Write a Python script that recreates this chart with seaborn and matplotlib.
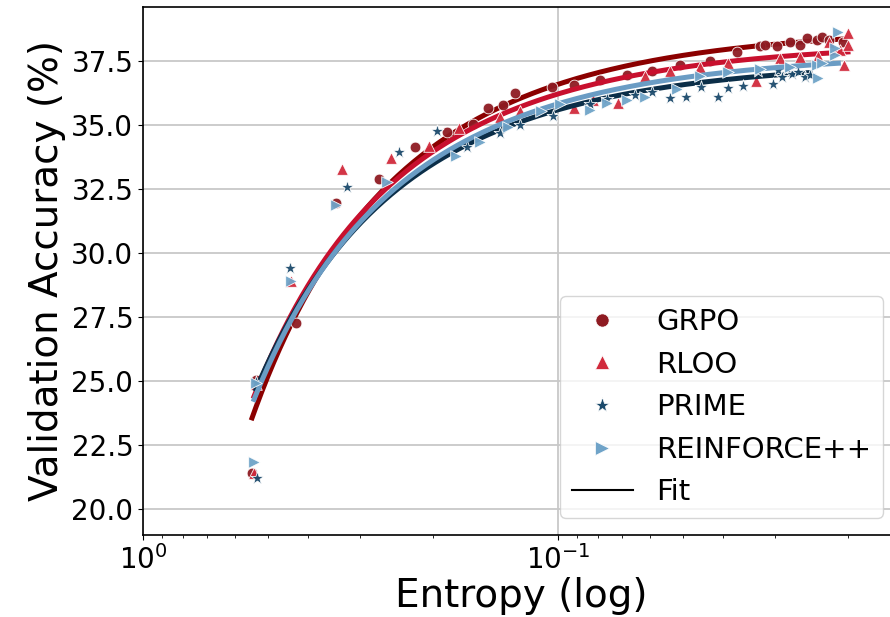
import numpy as np
import pandas as pd
import matplotlib
matplotlib.use("Agg")
import matplotlib.pyplot as plt
import seaborn as sns
from matplotlib.lines import Line2D

# ---------------- data ----------------
methods = ["GRPO", "RLOO", "PRIME", "REINFORCE++"]

grpo_entropy = [0.546, 0.534, 0.428, 0.343, 0.270, 0.2212, 0.1851, 0.1603, 0.1475,
                0.1357, 0.1269, 0.1034, 0.0915, 0.0792, 0.0682, 0.0594, 0.0508, 0.0430,
                0.0370, 0.0326, 0.0317, 0.0297, 0.0276, 0.0261, 0.0251, 0.0238, 0.0231,
                0.0222, 0.0206]
grpo_acc = [21.42, 25.04, 27.28, 31.94, 32.89, 34.15, 34.74, 35.04, 35.65,
            35.78, 36.26, 36.47, 36.55, 36.75, 36.95, 37.12, 37.35, 37.50,
            37.86, 38.06, 38.13, 38.06, 38.25, 38.13, 38.39, 38.32, 38.43,
            38.32, 38.25]

rloo_entropy = [0.540, 0.534, 0.440, 0.332, 0.253, 0.2046, 0.1732, 0.1379, 0.1234,
                0.0915, 0.0823, 0.0717, 0.0617, 0.0537, 0.0455, 0.0390, 0.0333,
                0.0292, 0.0261, 0.0236, 0.0222, 0.0209, 0.0205, 0.0200, 0.0200]
rloo_acc = [21.40, 24.90, 28.92, 33.27, 33.70, 34.17, 34.88, 35.30, 35.55,
            35.65, 35.98, 35.85, 36.90, 37.10, 37.25, 37.40, 36.71,
            37.60, 37.65, 37.70, 38.24, 37.93, 37.34, 38.58, 38.13]

prime_entropy = [0.531, 0.534, 0.442, 0.322, 0.2416, 0.1957, 0.1657, 0.1379, 0.1234,
                 0.1028, 0.0837, 0.0762, 0.0652, 0.0594, 0.0537, 0.0491, 0.0452,
                 0.0412, 0.0390, 0.0358, 0.0330, 0.0303, 0.0295, 0.0289, 0.0280,
                 0.0273, 0.0264, 0.0254, 0.0247]
prime_acc = [21.24, 24.95, 29.40, 32.59, 33.96, 34.78, 34.12, 34.70, 35.00,
             35.34, 35.80, 36.00, 36.17, 36.30, 36.04, 36.08, 36.47,
             36.10, 36.43, 36.50, 37.10, 36.60, 37.15, 36.88, 37.20,
             37.00, 37.08, 36.88, 36.95]

rpp_entropy = [0.540, 0.534, 0.440, 0.343, 0.258, 0.1761, 0.1542, 0.1320, 0.1100,
               0.0989, 0.0837, 0.0762, 0.0682, 0.0617, 0.0517, 0.0455, 0.0390,
               0.0326, 0.0276, 0.0236, 0.0238, 0.0231, 0.0215, 0.0211, 0.0215]
rpp_acc = [21.85, 24.92, 28.92, 31.88, 32.79, 33.78, 34.35, 34.93, 35.55,
           35.80, 35.60, 35.85, 35.98, 36.10, 36.39, 36.90, 37.05,
           37.17, 37.27, 36.82, 37.34, 37.40, 37.73, 38.64, 38.00]

y_ticks = [20.0, 22.5, 25.0, 27.5, 30.0, 32.5, 35.0, 37.5]

series = {
    "GRPO": (grpo_entropy, grpo_acc),
    "RLOO": (rloo_entropy, rloo_acc),
    "PRIME": (prime_entropy, prime_acc),
    "REINFORCE++": (rpp_entropy, rpp_acc),
}

# ---------------- styles ----------------
point_colors = {"GRPO": "#8e1b22", "RLOO": "#d12a3c", "PRIME": "#1b4a6b", "REINFORCE++": "#6fa3c8"}
fit_colors = {"GRPO": "#8b0000", "RLOO": "#c8102e", "PRIME": "#0b2e48", "REINFORCE++": "#6a9cc4"}
markers = {"GRPO": "o", "RLOO": "^", "PRIME": "*", "REINFORCE++": ">"}
sizes = {"GRPO": 60, "RLOO": 70, "PRIME": 95, "REINFORCE++": 70}

fig = plt.figure(figsize=(8.9, 6.17), dpi=100)
ax = fig.add_axes([143 / 890, 82 / 617, 756 / 890, 528 / 617])

for i, m in enumerate(methods):
    H, acc = series[m]
    H = np.asarray(H)
    acc = np.asarray(acc)
    # fit R = -a * exp(H) + b
    coef = np.polyfit(np.exp(H), acc, 1)
    hgrid = np.geomspace(H.min(), H.max(), 300)
    yfit = np.polyval(coef, np.exp(hgrid))
    sns.lineplot(x=hgrid, y=yfit, color=fit_colors[m], lw=3.6, ax=ax,
                 sort=False, estimator=None, legend=False, zorder=2 + 2 * i)
    df = pd.DataFrame({"entropy": H, "acc": acc})
    sns.scatterplot(data=df, x="entropy", y="acc", marker=markers[m],
                    color=point_colors[m], s=sizes[m], edgecolor="white",
                    linewidth=0.6, alpha=0.95, ax=ax, legend=False, zorder=3 + 2 * i)

ax.set_xscale("log")
ax.set_xlim(1.0, 0.01507)
ax.set_ylim(19.0, 39.6)
ax.set_yticks(y_ticks)
ax.set_yticklabels([f"{t:.1f}" for t in y_ticks])
ax.grid(True, which="major", color="#c8c8c8", lw=1.3)
ax.set_axisbelow(True)
ax.tick_params(labelsize=20)
ax.set_xlabel("Entropy (log)", fontsize=28, labelpad=2)
ax.set_ylabel("Validation Accuracy (%)", fontsize=28)
for sp in ax.spines.values():
    sp.set_color("black")
    sp.set_linewidth(1.2)

handles = [Line2D([0], [0], marker=markers[m], color="none", markerfacecolor=point_colors[m],
                  markeredgecolor="white", markeredgewidth=0.5,
                  markersize=(11 if m == "PRIME" else 9.5), label=m) for m in methods]
handles.append(Line2D([0], [0], color="black", lw=1.5, label="Fit"))
ax.legend(handles=handles, loc="lower right", bbox_to_anchor=(0.979, 0.032),
          borderaxespad=0, fontsize=21, frameon=True, fancybox=True,
          edgecolor="#cccccc", framealpha=0.8, handlelength=2.1)

fig.savefig("out.png", dpi=100)
